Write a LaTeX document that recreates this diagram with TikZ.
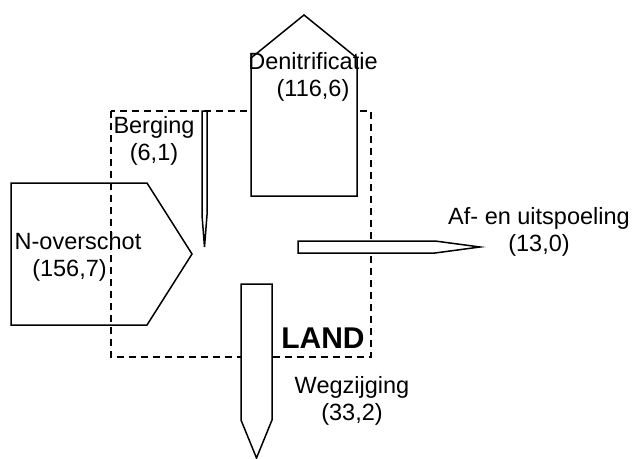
\documentclass[tikz,border=0pt]{standalone}
\usepackage{fontspec}
\setmainfont{Liberation Sans}
\begin{document}
\begin{tikzpicture}[x=1pt,y=-1pt,
  shp/.style={draw=black,line width=1.5pt,line join=miter,fill=white},
  lbl/.style={inner sep=0pt,font=\fontsize{23.5}{27}\selectfont,align=center},
  frame/.style={draw=black,line width=1.4pt,dash pattern=on 7pt off 5pt}]
\useasboundingbox (0,0) rectangle (634,458);
% land frame
\draw[frame] (111,111) rectangle (371,357);
% N-overschot
\draw[shp,fill=none] (11,183) -- (147,183) -- (192,254) -- (147,325) -- (11,325) -- cycle;
% Denitrificatie house
\draw[shp] (251,196) -- (251,58) -- (304,15) -- (357,58) -- (357,196) -- cycle;
% Berging arrow
\draw[shp] (202,111) -- (207,111) -- (207,215) -- (204.5,247) -- (202,215) -- cycle;
% Af- en uitspoeling arrow
\draw[shp] (298,241) -- (435,241) -- (480,247) -- (435,253) -- (298,253) -- cycle;
% Wegzijging arrow
\draw[shp] (241,284) -- (272,284) -- (272,420) -- (256.5,458) -- (241,420) -- cycle;
% labels
\node[lbl] (nover) at (78,257) {N-overschot\\(156,7)\hspace*{17pt}};
\node[lbl] (denit) at (313,77) {Denitrificatie\\(116,6)};
\node[lbl] (berg) at (154,141) {Berging\\(6,1)};
\node[lbl] (afu) at (539,232) {Af- en uitspoeling\\(13,0)};
\node[lbl] (wegz) at (352,401) {Wegzijging\\(33,2)};
\node[inner sep=0pt,font=\fontsize{30}{32}\selectfont\bfseries] (land) at (323,338) {LAND};
\end{tikzpicture}
\end{document}
